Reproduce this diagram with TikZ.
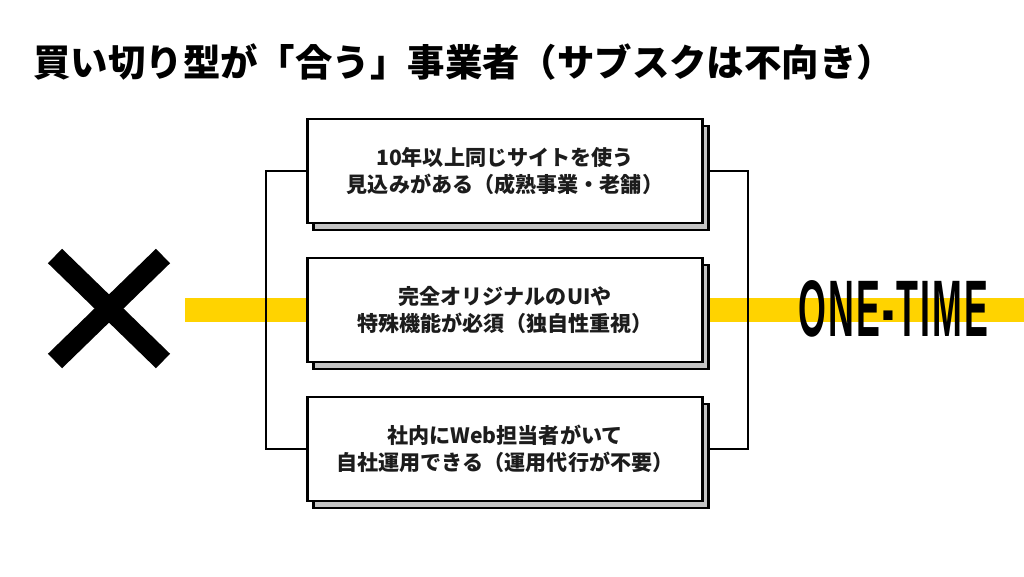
\documentclass[tikz,border=0pt]{standalone}
\usepackage{fontspec}
\newfontfamily\jpfont{Noto Sans CJK JP}
\newfontfamily\latinfont[LetterSpace=6]{Liberation Sans}
\usetikzlibrary{positioning,shadows,backgrounds}
\definecolor{bandyellow}{RGB}{255,211,0}
\definecolor{shadegrey}{RGB}{196,196,196}
\definecolor{inkdark}{RGB}{28,28,28}

\begin{document}
\begin{tikzpicture}[x=0.02cm, y=-0.02cm,
    pointbox/.style={rectangle, draw=black, line width=1.4pt, fill=white,
        minimum width=7.9cm, minimum height=2.08cm, align=center, text=inkdark,
        font=\jpfont\bfseries\fontsize{12}{15.6}\selectfont,
        copy shadow={shadow xshift=0.12cm, shadow yshift=-0.14cm,
            fill=shadegrey, draw=black, line width=1.2pt}},
    rail/.style={draw=black, line width=1.1pt},
    cross/.style={draw=black, line width=11.5pt}
]
    \useasboundingbox (0,0) rectangle (1024,576);

    % Title
    \node[anchor=west, inner sep=0pt, font=\jpfont\bfseries\fontsize{21.3}{24}\selectfont]
        (title) at (33,62) {買い切り型が「合う」事業者（サブスクは不向き）};

    % Three conditions
    \node[pointbox] (longterm) at (505,171) {10年以上同じサイトを使う\\見込みがある（成熟事業・老舗）};
    \node[pointbox] (original) at (505,310) {完全オリジナルのUIや\\特殊機能が必須（独自性重視）};
    \node[pointbox] (inhouse) at (505,449) {社内にWeb担当者がいて\\自社運用できる（運用代行が不要）};

    % Label on the band
    \node[anchor=west, inner sep=0pt] (onetime) at (798,309)
        {\resizebox{3.8cm}{1.12cm}{\latinfont\bfseries ONE-TIME}};

    % Big cross on the left
    \draw[cross] (55,256) -- (163,361);
    \draw[cross] (163,256) -- (55,361);

    \coordinate (leftrail) at (266,310);
    \coordinate (rightrail) at (748,310);

    \begin{scope}[on background layer]
        % yellow band behind everything
        \fill[bandyellow] (185,298) rectangle (1024,322);
        % brackets
        \draw[rail] (longterm.west) -| (leftrail) |- (inhouse.west);
        \draw[rail] (longterm.east) -| (rightrail) |- (inhouse.east);
    \end{scope}
\end{tikzpicture}
\end{document}
